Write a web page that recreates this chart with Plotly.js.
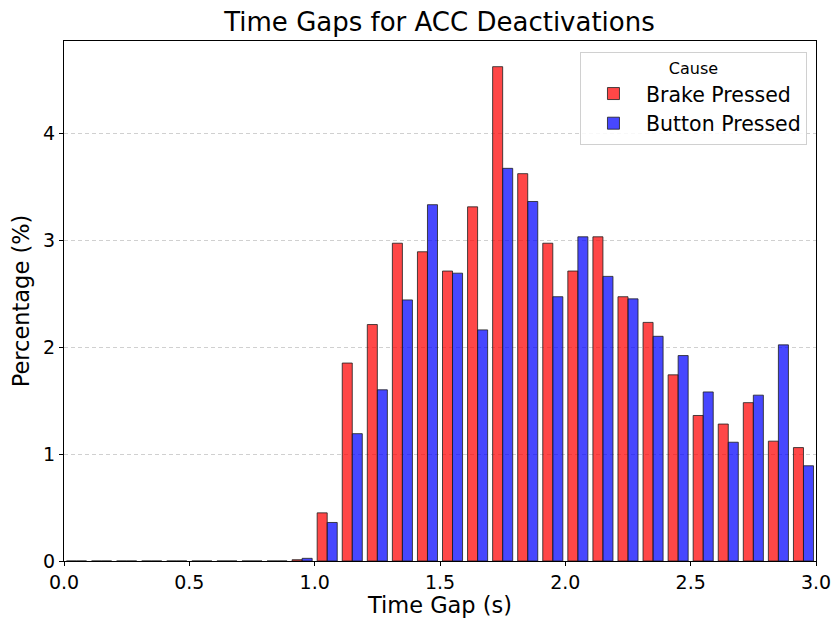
<!DOCTYPE html>
<html>
<head>
<meta charset="utf-8">
<script src="https://cdn.plot.ly/plotly-3.0.1.min.js"></script>
<style>
  html, body { margin: 0; padding: 0; background: #fff; }
  #chart { width: 834px; height: 618px; }
</style>
</head>
<body>
<div id="chart"></div>
<script>
// Left edges of the 0.1 s time-gap bins
const binStarts = [0.0, 0.1, 0.2, 0.3, 0.4, 0.5, 0.6, 0.7, 0.8, 0.9,
                   1.0, 1.1, 1.2, 1.3, 1.4, 1.5, 1.6, 1.7, 1.8, 1.9,
                   2.0, 2.1, 2.2, 2.3, 2.4, 2.5, 2.6, 2.7, 2.8, 2.9];
const binWidth = 0.1;

// Share of deactivations per bin (%)
const brakePressed = [0, 0, 0, 0, 0, 0, 0, 0, 0, 0.012,
                      0.45, 1.85, 2.21, 2.97, 2.89, 2.71, 3.31, 4.62, 3.62, 2.97,
                      2.71, 3.03, 2.47, 2.23, 1.74, 1.36, 1.28, 1.48, 1.12, 1.06];
const buttonPressed = [0, 0, 0, 0, 0, 0, 0, 0, 0, 0.025,
                       0.36, 1.19, 1.60, 2.44, 3.33, 2.69, 2.16, 3.67, 3.36, 2.47,
                       3.03, 2.66, 2.45, 2.10, 1.92, 1.58, 1.11, 1.55, 2.02, 0.89];

const seriesNames = ['Brake Pressed', 'Button Pressed'];
const xTicks = [0.0, 0.5, 1.0, 1.5, 2.0, 2.5, 3.0];
const yTicks = [0, 1, 2, 3, 4];

const binCenters = binStarts.map(s => s + binWidth / 2);
const FONT = 'DejaVu Sans, sans-serif';

const traces = [
  {
    type: 'bar', name: seriesNames[0], x: binCenters, y: brakePressed,
    marker: { color: 'rgba(255,0,0,0.72)', line: { color: 'rgba(30,30,30,0.8)', width: 1 } }
  },
  {
    type: 'bar', name: seriesNames[1], x: binCenters, y: buttonPressed,
    marker: { color: 'rgba(0,0,255,0.72)', line: { color: 'rgba(30,30,30,0.8)', width: 1 } }
  }
];

const layout = {
  width: 834, height: 618,
  margin: { l: 64, r: 18, t: 41, b: 57 },
  paper_bgcolor: '#fff', plot_bgcolor: '#fff',
  font: { family: FONT, color: '#000' },
  barmode: 'group', bargap: 0.2, bargroupgap: 0,
  title: {
    text: 'Time Gaps for ACC Deactivations',
    font: { family: FONT, size: 26, color: '#000' },
    x: 0.527, xanchor: 'center', y: 0.964, yanchor: 'middle'
  },
  xaxis: {
    range: [0, 3.0], tickvals: xTicks, ticktext: xTicks.map(v => v.toFixed(1)),
    ticks: 'outside', ticklen: 4, tickcolor: '#000', tickwidth: 1,
    tickfont: { size: 19, family: FONT },
    showgrid: false, zeroline: false,
    showline: true, linecolor: '#000', linewidth: 1, mirror: true,
    title: { text: 'Time Gap (s)', font: { size: 22.5, family: FONT }, standoff: 3 }
  },
  yaxis: {
    range: [0, 4.86], tickvals: yTicks,
    ticks: 'outside', ticklen: 4, tickcolor: '#000', tickwidth: 1,
    tickfont: { size: 19, family: FONT },
    showgrid: true, gridcolor: '#c4c4c4', griddash: '4px,3px', gridwidth: 0.8,
    zeroline: false,
    showline: true, linecolor: '#000', linewidth: 1, mirror: true,
    title: { text: 'Percentage (%)', font: { size: 22.5, family: FONT }, standoff: 7 }
  },
  legend: {
    x: 0.988, xanchor: 'right', y: 0.979, yanchor: 'top',
    bgcolor: 'rgba(255,255,255,0.85)', bordercolor: '#d0d0d0', borderwidth: 1,
    font: { size: 20.5, family: FONT },
    title: { text: 'Cause', side: 'top center', font: { size: 16, family: FONT } },
    itemwidth: 55, tracegroupgap: 2
  },
  showlegend: true
};

Plotly.newPlot('chart', traces, layout, { displayModeBar: false, staticPlot: true });
</script>
</body>
</html>
